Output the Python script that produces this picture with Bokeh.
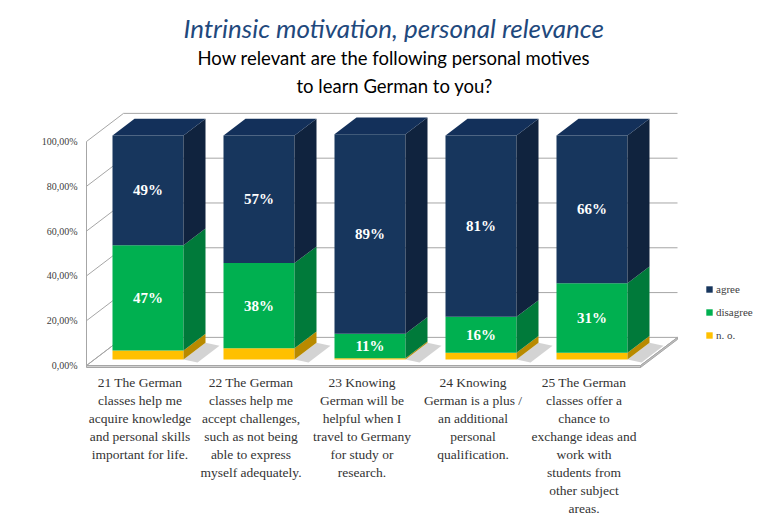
import numpy as np
from bokeh.plotting import figure
from bokeh.models import Range1d, FixedTicker, Legend, LegendItem, Title, ColumnDataSource
from bokeh.embed import file_html
from bokeh.resources import INLINE
from bokeh.core.properties import value

# ---------------- data ----------------
categories = [
    "21 The German\nclasses help me\nacquire knowledge\nand personal skills\nimportant for life.",
    "22 The German\nclasses help me\naccept challenges,\nsuch as not being\nable to express\nmyself adequately.",
    "23 Knowing\nGerman will be\nhelpful when I\ntravel to Germany\nfor study or\nresearch.",
    "24 Knowing\nGerman is a plus /\nan additional\npersonal\nqualification.",
    "25 The German\nclasses offer a\nchance to\nexchange ideas and\nwork with\nstudents from\nother subject\nareas.",
]
agree = [49, 57, 89, 81, 66]
disagree = [47, 38, 11, 16, 31]
no_opinion = [4, 5, 0.5, 3, 3]
series_names = ["agree", "disagree", "n. o."]
y_ticks = [0, 20, 40, 60, 80, 100]
y_tick_labels = ["0,00%", "20,00%", "40,00%", "60,00%", "80,00%", "100,00%"]

# ---------------- geometry / style ----------------
BL, BR, BT, BB = 84, 0, 100, 153
FW, FH = 683, 270
PX_CAT = 111.0
PX_PCT = 2.24
RATIO = 0.76
x0 = -0.5
x1 = x0 + FW / PX_CAT
y0 = -5 / PX_PCT
y1 = y0 + FH / PX_PCT


def dxy(t):
    return t / PX_CAT, RATIO * t / PX_PCT


SERIF = "Liberation Serif"
SERIF_Q = "'Liberation Serif', serif"
colors_front = {"agree": "#17365D", "disagree": "#00B050", "n. o.": "#FFC000"}
colors_side = {"agree": "#10233E", "disagree": "#007A3A", "n. o.": "#B88A00"}
color_top = "#13305A"

p = figure(frame_width=FW, frame_height=FH, output_backend="svg", toolbar_location=None,
           x_range=Range1d(x0, x1), y_range=Range1d(y0, y1),
           min_border_left=BL, min_border_right=BR, min_border_top=BT,
           min_border_bottom=BB, outline_line_color=None,
           background_fill_color="white", border_fill_color="white")
p.xgrid.visible = False
p.ygrid.visible = False

# ---------------- walls & floor ----------------
xl = (86 - 139.5) / PX_CAT
xr = (640 - 139.5) / PX_CAT
wdx, wdy = dxy(37)
grid_col = "#A6A6A6"

p.patch([xl, xr, xr + wdx, xl + wdx], [0, 0, wdy, wdy], fill_color="white",
        line_color=grid_col, line_width=1)
p.quad(left=[xl], right=[xr], bottom=[-2 / PX_PCT], top=[0],
       fill_color="#D0D0D0", line_color=grid_col, line_width=1)
p.patch([xr, xr + wdx, xr + wdx, xr], [0, wdy, wdy - 2 / PX_PCT, -2 / PX_PCT],
        fill_color="#C0C0C0", line_color=grid_col, line_width=1)

diag_x = [[xl, xl + wdx] for _ in y_ticks]
diag_y = [[v, v + wdy] for v in y_ticks]
p.multi_line(diag_x, diag_y, line_color=grid_col, line_width=1)
back_x = [[xl + wdx, xr + wdx] for v in y_ticks if v > 0]
back_y = [[v + wdy, v + wdy] for v in y_ticks if v > 0]
p.multi_line(back_x, back_y, line_color=grid_col, line_width=1)
p.segment(x0=[xl], y0=[0], x1=[xl], y1=[max(y_ticks)], line_color=grid_col, line_width=1)

# ---------------- bars ----------------
n = len(categories)
xs = np.arange(n, dtype=float)
fdx, fdy = dxy(8)
ddx, ddy = dxy(22)
hw = 71 / 2 / PX_CAT

shadow_xs, shadow_ys = [], []
for i in range(n):
    r = xs[i] + fdx + hw
    shadow_xs.append([r, r + 14 / PX_CAT, r + ddx + 14 / PX_CAT, r + ddx])
    shadow_ys.append([fdy, fdy - 3 / PX_PCT, fdy + ddy - 3 / PX_PCT, fdy + ddy])
p.patches(shadow_xs, shadow_ys, fill_color="#808080", fill_alpha=0.35, line_color=None)

series = [("n. o.", no_opinion), ("disagree", disagree), ("agree", agree)]
base = np.zeros(n)
front_renderers = {}
label_x, label_y, label_t = [], [], []
for name, vals in series:
    vals = np.array(vals, dtype=float)
    left = xs + fdx - hw
    right = xs + fdx + hw
    bot = base + fdy
    top = base + vals + fdy
    r = p.quad(left=left, right=right, bottom=bot, top=top,
               fill_color=colors_front[name], line_color=None)
    front_renderers[name] = r
    sx = [[right[i], right[i] + ddx, right[i] + ddx, right[i]] for i in range(n)]
    sy = [[bot[i], bot[i] + ddy, top[i] + ddy, top[i]] for i in range(n)]
    p.patches(sx, sy, fill_color=colors_side[name], line_color=None)
    if name != "n. o.":
        for i in range(n):
            label_x.append(xs[i] + fdx)
            label_y.append(base[i] + vals[i] / 2 + fdy)
            label_t.append(f"{round(vals[i]):d}%")
    base = base + vals

tl = xs + fdx - hw
tr = xs + fdx + hw
tt = base + fdy
txs = [[tl[i], tr[i], tr[i] + ddx, tl[i] + ddx] for i in range(n)]
tys = [[tt[i], tt[i], tt[i] + ddy, tt[i] + ddy] for i in range(n)]
p.patches(txs, tys, fill_color=color_top, line_color=None)

src = ColumnDataSource(dict(x=label_x, y=label_y, t=label_t))
p.text(x="x", y="y", text="t", source=src, text_color="white",
       text_font=value(SERIF), text_font_style="bold", text_font_size="15px",
       text_align="center", text_baseline="middle")

# ---------------- axes ----------------
p.yaxis.ticker = FixedTicker(ticks=y_ticks)
p.yaxis.major_label_overrides = {v: s for v, s in zip(y_ticks, y_tick_labels)}
p.yaxis.axis_line_color = None
p.yaxis.major_tick_line_color = None
p.yaxis.minor_tick_line_color = None
p.yaxis.major_tick_out = 0
p.yaxis.major_label_text_font = SERIF_Q
p.yaxis.major_label_text_font_size = "10px"
p.yaxis.major_label_text_color = "#404040"
p.yaxis.major_label_standoff = 7

p.xaxis.ticker = FixedTicker(ticks=list(range(n)))
p.xaxis.major_label_overrides = {i: c for i, c in enumerate(categories)}
p.xaxis.axis_line_color = None
p.xaxis.major_tick_line_color = None
p.xaxis.minor_tick_line_color = None
p.xaxis.major_tick_out = 0
p.xaxis.major_label_text_font = SERIF
p.xaxis.major_label_text_font_size = "13.5px"
p.xaxis.major_label_text_line_height = 1.2
p.xaxis.major_label_text_color = "#333333"
p.xaxis.major_label_standoff = 4

# ---------------- legend ----------------
items = [LegendItem(label=nm, renderers=[front_renderers[nm]]) for nm in ["agree", "disagree", "n. o."]]
legend = Legend(items=items, location=(621, 27), padding=0, margin=0,
                border_line_color=None, background_fill_alpha=0,
                glyph_width=8, glyph_height=8, label_height=16, spacing=7,
                label_standoff=3, label_text_font=SERIF_Q, label_text_font_size="11px",
                label_text_color="#404040")
p.add_layout(legend)

# ---------------- titles ----------------
p.add_layout(Title(text="to learn German to you?", align="left", text_font="Lato",
                   text_font_size="18.5px", text_font_style="normal", text_color="black",
                   standoff=8, offset=212), "above")
p.add_layout(Title(text="How relevant are the following personal motives", align="left",
                   text_font="Lato", text_font_size="18.5px", text_font_style="normal",
                   text_color="black", standoff=0, offset=113), "above")
p.add_layout(Title(text="Intrinsic motivation, personal relevance", align="left",
                   text_font="Lato", text_font_size="26px", text_font_style="italic",
                   text_color="#1F497D", standoff=2, offset=99), "above")

open("out.html", "w").write(file_html(p, INLINE))
